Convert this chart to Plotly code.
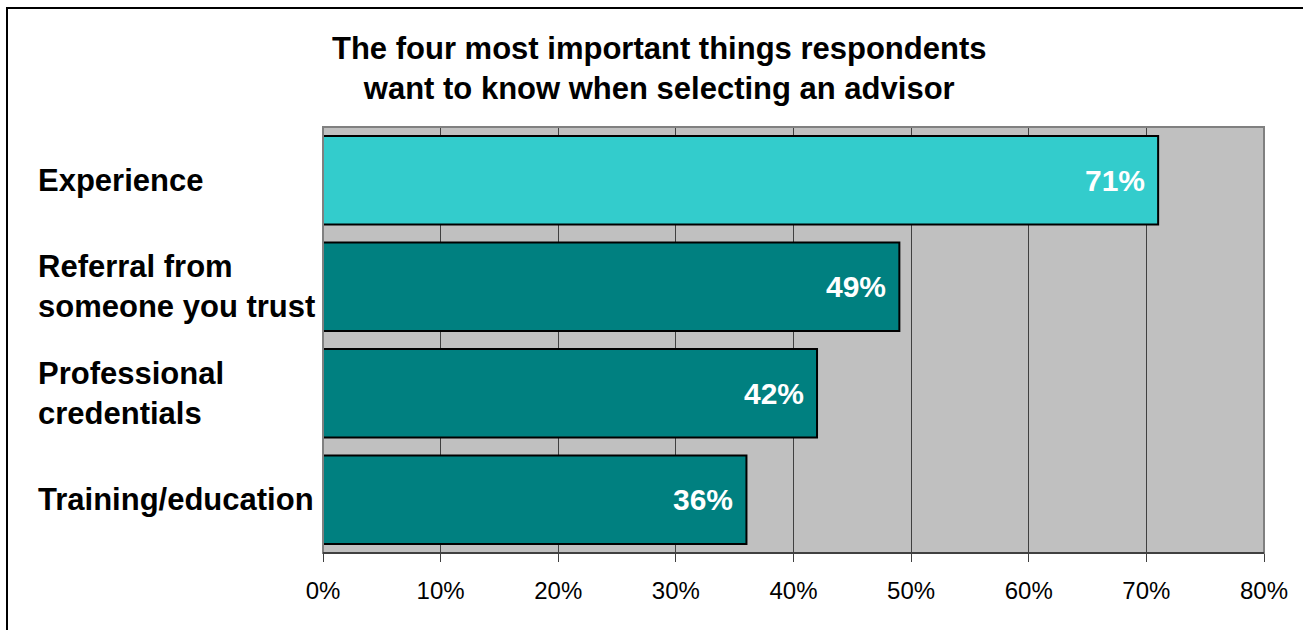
import plotly.graph_objects as go

categories = ["Experience", "Referral from someone you trust", "Professional credentials", "Training/education"]
label_lines = ["Experience", "Referral from<br>someone you trust", "Professional<br>credentials", "Training/education"]
values = [0.71, 0.49, 0.42, 0.36]
colors = ["#33CCCC", "#008080", "#008080", "#008080"]
x_ticks = [0, 0.1, 0.2, 0.3, 0.4, 0.5, 0.6, 0.7, 0.8]
title = "The four most important things respondents<br>want to know when selecting an advisor"

FONT = "Arial, 'Liberation Sans', sans-serif"
W, H = 1303, 630
L, R, T, B = 323, 39, 127, 77
pw, ph = W - L - R, H - T - B

def px_x(p):
    return (p - L) / pw

def px_y(p):
    return (H - B - p) / ph

fig = go.Figure(go.Bar(
    x=values, y=categories, orientation="h",
    marker=dict(color=colors, line=dict(color="#000000", width=2)),
    width=0.83, hoverinfo="skip",
))

annotations = []
for c, lab, v in zip(categories, label_lines, values):
    annotations.append(dict(x=px_x(36), y=c, xref="paper", yref="y", text=f"<b>{lab}</b>",
                            showarrow=False, xanchor="left", yanchor="middle", align="left",
                            font=dict(family=FONT, size=31, color="#000000")))
    annotations.append(dict(x=v, y=c, xref="x", yref="y", text=f"<b>{round(v*100)}%</b>",
                            showarrow=False, xanchor="right", yanchor="middle", xshift=-11,
                            font=dict(family=FONT, size=30, color="#FFFFFF")))
annotations.append(dict(x=px_x(659), y=px_y(68), xref="paper", yref="paper", text=f"<b>{title}</b>",
                        showarrow=False, xanchor="center", yanchor="middle", align="center",
                        font=dict(family=FONT, size=31, color="#000000")))

shapes = [
    dict(type="rect", xref="paper", yref="paper", x0=0, x1=1, y0=0, y1=1,
         line=dict(color="#808080", width=2), layer="above"),
    dict(type="line", xref="paper", yref="paper", x0=0, x1=1, y0=0, y1=0,
         line=dict(color="#404040", width=2), layer="above"),
    dict(type="rect", xref="paper", yref="paper", x0=px_x(7), x1=px_x(1320), y0=px_y(8), y1=px_y(660),
         line=dict(color="#000000", width=2), layer="above"),
]

fig.update_layout(
    width=W, height=H,
    margin=dict(l=L, r=R, t=T, b=B),
    paper_bgcolor="#FFFFFF", plot_bgcolor="#C0C0C0",
    showlegend=False,
    bargap=0.17,
    annotations=annotations, shapes=shapes,
    xaxis=dict(range=[0, 0.8], tickvals=x_ticks, tickformat=".0%",
               showgrid=True, gridcolor="#404040", gridwidth=1,
               ticks="outside", ticklen=8, tickcolor="#404040", tickwidth=1,
               ticklabelstandoff=8,
               zeroline=False, showline=False,
               tickfont=dict(family=FONT, size=24, color="#000000")),
    yaxis=dict(categoryorder="array", categoryarray=categories, autorange="reversed",
               showticklabels=False, showgrid=False, zeroline=False, ticks=""),
)

fig.write_html("out.html")
